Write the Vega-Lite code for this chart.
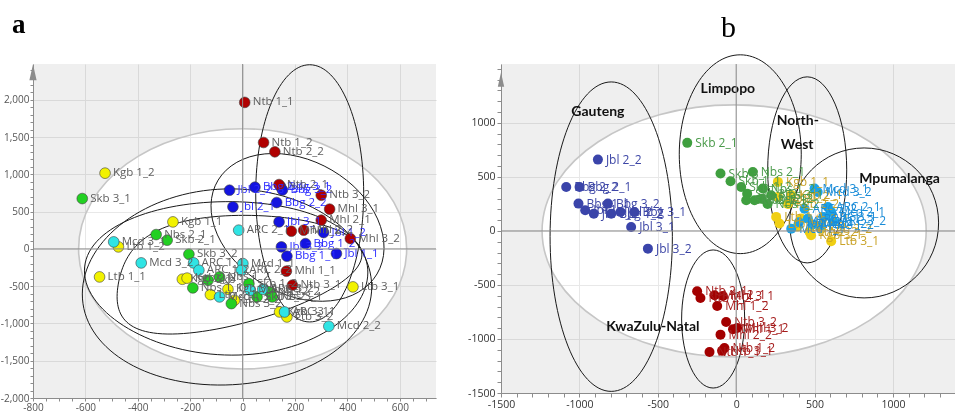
{
  "$schema": "https://vega.github.io/schema/vega-lite/v6.json",
  "padding": {"left": 0, "top": 10, "right": 0, "bottom": 0},
  "spacing": 30,
  "resolve": {"scale": {"x": "independent", "y": "independent", "color": "independent"}},
  "config": {"view": {"stroke": null}},
  "datasets": {
    "ptsA": [
      {"name": "Kgb 1_2", "g": "NW", "x": -525, "y": 1016},
      {"name": "Kgb 1_1", "g": "NW", "x": -266, "y": 362},
      {"name": "Ltb 1_2", "g": "NW", "x": -474, "y": 27},
      {"name": "Ltb 1_1", "g": "NW", "x": -546, "y": -376},
      {"name": "Kgb 2_1", "g": "NW", "x": -230, "y": -407},
      {"name": "Kgb 2_2", "g": "NW", "x": -212, "y": -392},
      {"name": "Ltb 2_1", "g": "NW", "x": -123, "y": -613},
      {"name": "Kgb 3_2", "g": "NW", "x": -56, "y": -541},
      {"name": "Ltb 2_2", "g": "NW", "x": -31, "y": -689},
      {"name": "Ltb 3_1", "g": "NW", "x": 421, "y": -510},
      {"name": "Kgb 3_1", "g": "NW", "x": 141, "y": -846},
      {"name": "Ltb 3_2", "g": "NW", "x": 169, "y": -913},
      {"name": "Skb 3_1", "g": "LP", "x": -612, "y": 675},
      {"name": "Nbs 2_1", "g": "LP", "x": -330, "y": 192},
      {"name": "Skb 2_1", "g": "LP", "x": -288, "y": 117},
      {"name": "Skb 3_2", "g": "LP", "x": -205, "y": -71},
      {"name": "Nbs 1_1", "g": "LP", "x": -190, "y": -523},
      {"name": "Skb 1_1", "g": "LP", "x": -132, "y": -421},
      {"name": "Nbs 1_2", "g": "LP", "x": -88, "y": -376},
      {"name": "Nbs 3_2", "g": "LP", "x": -43, "y": -734},
      {"name": "Skb 1_2", "g": "LP", "x": 24, "y": -466},
      {"name": "Skb 2_2", "g": "LP", "x": 55, "y": -644},
      {"name": "Nbs 2_2", "g": "LP", "x": 103, "y": -577},
      {"name": "Nbs 3_1", "g": "LP", "x": 113, "y": -644},
      {"name": "ARC 2_1", "g": "MP", "x": -15, "y": 251},
      {"name": "Mcd 3_1", "g": "MP", "x": -492, "y": 94},
      {"name": "Mcd 3_2", "g": "MP", "x": -387, "y": -188},
      {"name": "ARC 1_1", "g": "MP", "x": -187, "y": -188},
      {"name": "ARC 1_2", "g": "MP", "x": -167, "y": -286},
      {"name": "Mcd 1_1", "g": "MP", "x": 1, "y": -197},
      {"name": "ARC 2_2", "g": "MP", "x": -5, "y": -286},
      {"name": "Mcd 1_2", "g": "MP", "x": -88, "y": -644},
      {"name": "Mcd 2_1", "g": "MP", "x": 29, "y": -554},
      {"name": "ARC 3_2", "g": "MP", "x": 77, "y": -541},
      {"name": "ARC 3_1", "g": "MP", "x": 160, "y": -846},
      {"name": "Mcd 2_2", "g": "MP", "x": 329, "y": -1038},
      {"name": "Jbl 2_2", "g": "GP", "x": -50, "y": 787},
      {"name": "Bbg 2_1", "g": "GP", "x": 47, "y": 828},
      {"name": "Bbg 3_1", "g": "GP", "x": 145, "y": 835},
      {"name": "Bbg 3_2", "g": "GP", "x": 152, "y": 790},
      {"name": "Jbl 2_1", "g": "GP", "x": -37, "y": 564},
      {"name": "Bbg 2_2", "g": "GP", "x": 130, "y": 622},
      {"name": "Jbl 3_1", "g": "GP", "x": 139, "y": 362},
      {"name": "Jbl 1_2", "g": "GP", "x": 309, "y": 219},
      {"name": "Jbl 3_2", "g": "GP", "x": 148, "y": 27},
      {"name": "Bbg 1_2", "g": "GP", "x": 240, "y": 71},
      {"name": "Jbl 1_1", "g": "GP", "x": 358, "y": -63},
      {"name": "Bbg 1_1", "g": "GP", "x": 169, "y": -98},
      {"name": "Ntb 1_1", "g": "KZN", "x": 8, "y": 1965},
      {"name": "Ntb 1_2", "g": "KZN", "x": 80, "y": 1427},
      {"name": "Ntb 2_2", "g": "KZN", "x": 123, "y": 1302},
      {"name": "Ntb 2_1", "g": "KZN", "x": 139, "y": 863},
      {"name": "Ntb 3_2", "g": "KZN", "x": 300, "y": 720},
      {"name": "Mhl 3_1", "g": "KZN", "x": 332, "y": 533},
      {"name": "Mhl 2_1", "g": "KZN", "x": 300, "y": 385},
      {"name": "Mhl 1_2", "g": "KZN", "x": 186, "y": 237},
      {"name": "Mhl 2_2", "g": "KZN", "x": 233, "y": 251},
      {"name": "Mhl 3_2", "g": "KZN", "x": 411, "y": 139},
      {"name": "Mhl 1_1", "g": "KZN", "x": 167, "y": -299},
      {"name": "Ntb 3_1", "g": "KZN", "x": 190, "y": -487}
    ],
    "ellA": [
      {"e": "T2", "k": 0, "x": 626, "y": 0},
      {"e": "T2", "k": 1, "x": 0, "y": 1611},
      {"e": "T2", "k": 2, "x": -626, "y": 0},
      {"e": "T2", "k": 3, "x": 0, "y": -1611},
      {"e": "E1", "k": 0, "x": 462, "y": 745},
      {"e": "E1", "k": 1, "x": 256, "y": 2470},
      {"e": "E1", "k": 2, "x": 50, "y": 745},
      {"e": "E1", "k": 3, "x": 256, "y": -980},
      {"e": "E2", "k": 0, "x": 534, "y": 201},
      {"e": "E2", "k": 1, "x": 149, "y": 1275},
      {"e": "E2", "k": 2, "x": -115, "y": 389},
      {"e": "E2", "k": 3, "x": 271, "y": -698},
      {"e": "E3", "k": 0, "x": 492, "y": -577},
      {"e": "E3", "k": 1, "x": -38, "y": 805},
      {"e": "E3", "k": 2, "x": -611, "y": -537},
      {"e": "E3", "k": 3, "x": -95, "y": -1826},
      {"e": "E4", "k": 0, "x": 477, "y": -376},
      {"e": "E4", "k": 1, "x": -11, "y": 631},
      {"e": "E4", "k": 2, "x": -603, "y": -242},
      {"e": "E4", "k": 3, "x": -69, "y": -1423},
      {"e": "E5", "k": 0, "x": 454, "y": -121},
      {"e": "E5", "k": 1, "x": -115, "y": 430},
      {"e": "E5", "k": 2, "x": -473, "y": -443},
      {"e": "E5", "k": 3, "x": -202, "y": -1128}
    ],
    "ptsB": [
      {"name": "Kgb 1_1", "g": "NW", "x": 266, "y": 454},
      {"name": "Kgb 1_2", "g": "NW", "x": 266, "y": 315},
      {"name": "Ltb 1_1", "g": "NW", "x": 255, "y": 130},
      {"name": "Ltb 1_2", "g": "NW", "x": 276, "y": 68},
      {"name": "Kgb 2_1", "g": "NW", "x": 351, "y": 333},
      {"name": "Kgb 2_2", "g": "NW", "x": 330, "y": 250},
      {"name": "Ltb 2_1", "g": "NW", "x": 415, "y": 114},
      {"name": "Ltb 2_2", "g": "NW", "x": 468, "y": -9},
      {"name": "Kgb 3_1", "g": "NW", "x": 478, "y": -40},
      {"name": "Kgb 3_2", "g": "NW", "x": 540, "y": 20},
      {"name": "Ltb 3_1", "g": "NW", "x": 606, "y": -95},
      {"name": "Ltb 3_2", "g": "NW", "x": 390, "y": 40},
      {"name": "Skb 2_1", "g": "LP", "x": -312, "y": 815},
      {"name": "Skb 3_1", "g": "LP", "x": -100, "y": 531},
      {"name": "Skb 1_1", "g": "LP", "x": -36, "y": 460},
      {"name": "Skb 1_2", "g": "LP", "x": 32, "y": 407},
      {"name": "Nbs 2_1", "g": "LP", "x": 106, "y": 546},
      {"name": "Skb 3_2", "g": "LP", "x": 70, "y": 345},
      {"name": "Skb 2_2", "g": "LP", "x": 64, "y": 284},
      {"name": "Nbs 1_1", "g": "LP", "x": 117, "y": 284},
      {"name": "Nbs 1_2", "g": "LP", "x": 170, "y": 392},
      {"name": "Nbs 2_2", "g": "LP", "x": 159, "y": 299},
      {"name": "Nbs 3_1", "g": "LP", "x": 223, "y": 330},
      {"name": "Nbs 3_2", "g": "LP", "x": 200, "y": 250},
      {"name": "Mcd 3_1", "g": "MP", "x": 500, "y": 392},
      {"name": "Mcd 3_2", "g": "MP", "x": 520, "y": 360},
      {"name": "Mcd 1_1", "g": "MP", "x": 351, "y": 21},
      {"name": "ARC 2_1", "g": "MP", "x": 585, "y": 222},
      {"name": "ARC 1_1", "g": "MP", "x": 457, "y": 114},
      {"name": "ARC 1_2", "g": "MP", "x": 542, "y": 53},
      {"name": "ARC 2_2", "g": "MP", "x": 436, "y": 206},
      {"name": "Mcd 2_1", "g": "MP", "x": 606, "y": 176},
      {"name": "Mcd 1_2", "g": "MP", "x": 490, "y": 60},
      {"name": "ARC 3_1", "g": "MP", "x": 560, "y": 130},
      {"name": "ARC 3_2", "g": "MP", "x": 620, "y": 90},
      {"name": "Mcd 2_2", "g": "MP", "x": 400, "y": 80},
      {"name": "Jbl 2_2", "g": "GP", "x": -882, "y": 660},
      {"name": "Bbg 2_2", "g": "GP", "x": -1084, "y": 407},
      {"name": "Bbg 2_1", "g": "GP", "x": -999, "y": 407},
      {"name": "Bbg 1_1", "g": "GP", "x": -1006, "y": 253},
      {"name": "Jbl 1_1", "g": "GP", "x": -963, "y": 192},
      {"name": "Jbl 1_2", "g": "GP", "x": -908, "y": 160},
      {"name": "Bbg 3_2", "g": "GP", "x": -818, "y": 253},
      {"name": "Bbg 1_2", "g": "GP", "x": -797, "y": 160},
      {"name": "Jbl 2_1", "g": "GP", "x": -738, "y": 176},
      {"name": "Bbg 3_1", "g": "GP", "x": -649, "y": 176},
      {"name": "Jbl 3_1", "g": "GP", "x": -670, "y": 37},
      {"name": "Jbl 3_2", "g": "GP", "x": -563, "y": -164},
      {"name": "Ntb 2_1", "g": "KZN", "x": -249, "y": -558},
      {"name": "Ntb 2_2", "g": "KZN", "x": -228, "y": -620},
      {"name": "Mhl 2_1", "g": "KZN", "x": -138, "y": -596},
      {"name": "Mhl 3_1", "g": "KZN", "x": -85, "y": -602},
      {"name": "Mhl 1_2", "g": "KZN", "x": -121, "y": -694},
      {"name": "Ntb 3_2", "g": "KZN", "x": -64, "y": -843},
      {"name": "Mhl 3_2", "g": "KZN", "x": 6, "y": -898},
      {"name": "Mhl 2_2", "g": "KZN", "x": -100, "y": -960},
      {"name": "Mhl 1_1", "g": "KZN", "x": -20, "y": -910},
      {"name": "Ntb 1_2", "g": "KZN", "x": -75, "y": -1083},
      {"name": "Ntb 3_1", "g": "KZN", "x": -90, "y": -1110},
      {"name": "Ntb 1_1", "g": "KZN", "x": -170, "y": -1120}
    ],
    "ellB": [
      {"e": "T2", "k": 0, "x": 1212, "y": 0},
      {"e": "T2", "k": 1, "x": -13, "y": 1167},
      {"e": "T2", "k": 2, "x": -1238, "y": 0},
      {"e": "T2", "k": 3, "x": -13, "y": -1167},
      {"e": "Gauteng", "k": 0, "x": -407, "y": -53},
      {"e": "Gauteng", "k": 1, "x": -797, "y": 1379},
      {"e": "Gauteng", "k": 2, "x": -1187, "y": -53},
      {"e": "Gauteng", "k": 3, "x": -797, "y": -1485},
      {"e": "Limpopo", "k": 0, "x": 415, "y": 710},
      {"e": "Limpopo", "k": 1, "x": 26, "y": 1630},
      {"e": "Limpopo", "k": 2, "x": -363, "y": 710},
      {"e": "Limpopo", "k": 3, "x": 26, "y": -210},
      {"e": "North-West", "k": 0, "x": 705, "y": 565},
      {"e": "North-West", "k": 1, "x": 453, "y": 1426},
      {"e": "North-West", "k": 2, "x": 201, "y": 565},
      {"e": "North-West", "k": 3, "x": 453, "y": -296},
      {"e": "Mpumalanga", "k": 0, "x": 1291, "y": 74},
      {"e": "Mpumalanga", "k": 1, "x": 816, "y": 768},
      {"e": "Mpumalanga", "k": 2, "x": 341, "y": 74},
      {"e": "Mpumalanga", "k": 3, "x": 816, "y": -620},
      {"e": "KwaZulu-Natal", "k": 0, "x": 54, "y": -815},
      {"e": "KwaZulu-Natal", "k": 1, "x": -147, "y": -176},
      {"e": "KwaZulu-Natal", "k": 2, "x": -348, "y": -815},
      {"e": "KwaZulu-Natal", "k": 3, "x": -147, "y": -1454}
    ],
    "regB": [
      {"t": "Gauteng", "x": -882, "y": 1105},
      {"t": "Limpopo", "x": -53, "y": 1318},
      {"t": "North-", "x": 393, "y": 1016},
      {"t": "West", "x": 389, "y": 794},
      {"t": "Mpumalanga", "x": 1042, "y": 484},
      {"t": "KwaZulu-Natal", "x": -531, "y": -889}
    ]
  },
  "hconcat": [
    {
      "title": {"text": "a", "anchor": "start", "frame": "group", "dx": -21, "offset": 24, "font": "Liberation Serif", "fontSize": 27, "fontWeight": "bold", "color": "#000000"},
      "width": 403,
      "height": 334,
      "view": {"fill": "#efefef", "stroke": null},
      "resolve": {"scale": {"color": "independent"}},
      "layer": [
        {
          "data": {"name": "ellA"},
          "transform": [{"filter": "datum.e === 'T2'"}],
          "mark": {"type": "line", "interpolate": "cardinal-closed", "tension": -0.657, "fill": "#111111", "blend": "color-dodge", "strokeWidth": 0},
          "encoding": {
            "x": {"field": "x", "type": "quantitative", "scale": {"domain": [-800, 738], "nice": false, "zero": false},
              "axis": {"title": null, "values": [-800, -750, -700, -650, -600, -550, -500, -450, -400, -350, -300, -250, -200, -150, -100, -50, 0, 50, 100, 150, 200, 250, 300, 350, 400, 450, 500, 550, 600, 650, 700], "labelExpr": "datum.value % 200 === 0 ? replace(format(datum.value, ','), '\u2212', '-') : ''", "labelFont": "Open Sans", "labelFontSize": 10, "labelColor": "#555555", "labelPadding": 1, "labelOverlap": false, "labelFlush": false, "tickColor": "#8c8c8c", "tickSize": 3, "domainColor": "#8c8c8c", "grid": true, "gridColor": {"condition": {"test": "datum.value % 200 === 0", "value": "#d9d9d9"}, "value": "transparent"}}},
            "y": {"field": "y", "type": "quantitative", "scale": {"domain": [-2000, 2480], "nice": false, "zero": false},
              "axis": {"title": null, "values": [-2000, -1900, -1800, -1700, -1600, -1500, -1400, -1300, -1200, -1100, -1000, -900, -800, -700, -600, -500, -400, -300, -200, -100, 0, 100, 200, 300, 400, 500, 600, 700, 800, 900, 1000, 1100, 1200, 1300, 1400, 1500, 1600, 1700, 1800, 1900, 2000, 2100, 2200, 2300, 2400], "labelExpr": "datum.value % 500 === 0 ? replace(format(datum.value, ','), '\u2212', '-') : ''", "labelFont": "Open Sans", "labelFontSize": 10, "labelColor": "#555555", "labelPadding": 1, "labelOverlap": false, "labelFlush": false, "tickColor": "#8c8c8c", "tickSize": 3, "domainColor": "#8c8c8c", "grid": true, "gridColor": {"condition": {"test": "datum.value % 500 === 0", "value": "#d9d9d9"}, "value": "transparent"}}},
            "order": {"field": "k"}
          }
        },
        {
          "data": {"name": "ellA"},
          "transform": [{"filter": "datum.e === 'T2'"}],
          "mark": {"type": "line", "interpolate": "cardinal-closed", "tension": -0.657, "color": "#c6c6c6", "strokeWidth": 1.6},
          "encoding": {
            "x": {"field": "x", "type": "quantitative", "scale": {"domain": [-800, 738], "nice": false, "zero": false},
              "axis": {"title": null, "values": [-800, -750, -700, -650, -600, -550, -500, -450, -400, -350, -300, -250, -200, -150, -100, -50, 0, 50, 100, 150, 200, 250, 300, 350, 400, 450, 500, 550, 600, 650, 700], "labelExpr": "datum.value % 200 === 0 ? replace(format(datum.value, ','), '\u2212', '-') : ''", "labelFont": "Open Sans", "labelFontSize": 10, "labelColor": "#555555", "labelPadding": 1, "labelOverlap": false, "labelFlush": false, "tickColor": "#8c8c8c", "tickSize": 3, "domainColor": "#8c8c8c", "grid": true, "gridColor": {"condition": {"test": "datum.value % 200 === 0", "value": "#d9d9d9"}, "value": "transparent"}}},
            "y": {"field": "y", "type": "quantitative", "scale": {"domain": [-2000, 2480], "nice": false, "zero": false},
              "axis": {"title": null, "values": [-2000, -1900, -1800, -1700, -1600, -1500, -1400, -1300, -1200, -1100, -1000, -900, -800, -700, -600, -500, -400, -300, -200, -100, 0, 100, 200, 300, 400, 500, 600, 700, 800, 900, 1000, 1100, 1200, 1300, 1400, 1500, 1600, 1700, 1800, 1900, 2000, 2100, 2200, 2300, 2400], "labelExpr": "datum.value % 500 === 0 ? replace(format(datum.value, ','), '\u2212', '-') : ''", "labelFont": "Open Sans", "labelFontSize": 10, "labelColor": "#555555", "labelPadding": 1, "labelOverlap": false, "labelFlush": false, "tickColor": "#8c8c8c", "tickSize": 3, "domainColor": "#8c8c8c", "grid": true, "gridColor": {"condition": {"test": "datum.value % 500 === 0", "value": "#d9d9d9"}, "value": "transparent"}}},
            "order": {"field": "k"}
          }
        },
        {
          "data": {"name": "ellA"},
          "transform": [{"filter": "datum.e !== 'T2'"}],
          "mark": {"type": "line", "interpolate": "cardinal-closed", "tension": -0.657, "color": "#1a1a1a", "strokeWidth": 1},
          "encoding": {
            "x": {"field": "x", "type": "quantitative", "scale": {"domain": [-800, 738], "nice": false, "zero": false},
              "axis": {"title": null, "values": [-800, -750, -700, -650, -600, -550, -500, -450, -400, -350, -300, -250, -200, -150, -100, -50, 0, 50, 100, 150, 200, 250, 300, 350, 400, 450, 500, 550, 600, 650, 700], "labelExpr": "datum.value % 200 === 0 ? replace(format(datum.value, ','), '\u2212', '-') : ''", "labelFont": "Open Sans", "labelFontSize": 10, "labelColor": "#555555", "labelPadding": 1, "labelOverlap": false, "labelFlush": false, "tickColor": "#8c8c8c", "tickSize": 3, "domainColor": "#8c8c8c", "grid": true, "gridColor": {"condition": {"test": "datum.value % 200 === 0", "value": "#d9d9d9"}, "value": "transparent"}}},
            "y": {"field": "y", "type": "quantitative", "scale": {"domain": [-2000, 2480], "nice": false, "zero": false},
              "axis": {"title": null, "values": [-2000, -1900, -1800, -1700, -1600, -1500, -1400, -1300, -1200, -1100, -1000, -900, -800, -700, -600, -500, -400, -300, -200, -100, 0, 100, 200, 300, 400, 500, 600, 700, 800, 900, 1000, 1100, 1200, 1300, 1400, 1500, 1600, 1700, 1800, 1900, 2000, 2100, 2200, 2300, 2400], "labelExpr": "datum.value % 500 === 0 ? replace(format(datum.value, ','), '\u2212', '-') : ''", "labelFont": "Open Sans", "labelFontSize": 10, "labelColor": "#555555", "labelPadding": 1, "labelOverlap": false, "labelFlush": false, "tickColor": "#8c8c8c", "tickSize": 3, "domainColor": "#8c8c8c", "grid": true, "gridColor": {"condition": {"test": "datum.value % 500 === 0", "value": "#d9d9d9"}, "value": "transparent"}}},
            "detail": {"field": "e"},
            "order": {"field": "k"}
          }
        },
        {
          "data": {"name": "ptsA"},
          "mark": {"type": "circle", "size": 115, "opacity": 1, "stroke": "#404040", "strokeWidth": 0.6},
          "encoding": {
            "x": {"field": "x", "type": "quantitative", "scale": {"domain": [-800, 738], "nice": false, "zero": false},
              "axis": {"title": null, "values": [-800, -750, -700, -650, -600, -550, -500, -450, -400, -350, -300, -250, -200, -150, -100, -50, 0, 50, 100, 150, 200, 250, 300, 350, 400, 450, 500, 550, 600, 650, 700], "labelExpr": "datum.value % 200 === 0 ? replace(format(datum.value, ','), '\u2212', '-') : ''", "labelFont": "Open Sans", "labelFontSize": 10, "labelColor": "#555555", "labelPadding": 1, "labelOverlap": false, "labelFlush": false, "tickColor": "#8c8c8c", "tickSize": 3, "domainColor": "#8c8c8c", "grid": true, "gridColor": {"condition": {"test": "datum.value % 200 === 0", "value": "#d9d9d9"}, "value": "transparent"}}},
            "y": {"field": "y", "type": "quantitative", "scale": {"domain": [-2000, 2480], "nice": false, "zero": false},
              "axis": {"title": null, "values": [-2000, -1900, -1800, -1700, -1600, -1500, -1400, -1300, -1200, -1100, -1000, -900, -800, -700, -600, -500, -400, -300, -200, -100, 0, 100, 200, 300, 400, 500, 600, 700, 800, 900, 1000, 1100, 1200, 1300, 1400, 1500, 1600, 1700, 1800, 1900, 2000, 2100, 2200, 2300, 2400], "labelExpr": "datum.value % 500 === 0 ? replace(format(datum.value, ','), '\u2212', '-') : ''", "labelFont": "Open Sans", "labelFontSize": 10, "labelColor": "#555555", "labelPadding": 1, "labelOverlap": false, "labelFlush": false, "tickColor": "#8c8c8c", "tickSize": 3, "domainColor": "#8c8c8c", "grid": true, "gridColor": {"condition": {"test": "datum.value % 500 === 0", "value": "#d9d9d9"}, "value": "transparent"}}},
            "color": {"field": "g", "type": "nominal", "legend": null,
              "scale": {"domain": ["KZN", "GP", "NW", "LP", "MP"], "range": ["#b00000", "#1414e0", "#f2f200", "#22d022", "#30e4e4"]}}
          }
        },
        {
          "data": {"name": "ptsA"},
          "mark": {"type": "text", "align": "left", "baseline": "middle", "dx": 8, "font": "Open Sans", "fontSize": 11.5},
          "encoding": {
            "x": {"field": "x", "type": "quantitative", "scale": {"domain": [-800, 738], "nice": false, "zero": false},
              "axis": {"title": null, "values": [-800, -750, -700, -650, -600, -550, -500, -450, -400, -350, -300, -250, -200, -150, -100, -50, 0, 50, 100, 150, 200, 250, 300, 350, 400, 450, 500, 550, 600, 650, 700], "labelExpr": "datum.value % 200 === 0 ? replace(format(datum.value, ','), '\u2212', '-') : ''", "labelFont": "Open Sans", "labelFontSize": 10, "labelColor": "#555555", "labelPadding": 1, "labelOverlap": false, "labelFlush": false, "tickColor": "#8c8c8c", "tickSize": 3, "domainColor": "#8c8c8c", "grid": true, "gridColor": {"condition": {"test": "datum.value % 200 === 0", "value": "#d9d9d9"}, "value": "transparent"}}},
            "y": {"field": "y", "type": "quantitative", "scale": {"domain": [-2000, 2480], "nice": false, "zero": false},
              "axis": {"title": null, "values": [-2000, -1900, -1800, -1700, -1600, -1500, -1400, -1300, -1200, -1100, -1000, -900, -800, -700, -600, -500, -400, -300, -200, -100, 0, 100, 200, 300, 400, 500, 600, 700, 800, 900, 1000, 1100, 1200, 1300, 1400, 1500, 1600, 1700, 1800, 1900, 2000, 2100, 2200, 2300, 2400], "labelExpr": "datum.value % 500 === 0 ? replace(format(datum.value, ','), '\u2212', '-') : ''", "labelFont": "Open Sans", "labelFontSize": 10, "labelColor": "#555555", "labelPadding": 1, "labelOverlap": false, "labelFlush": false, "tickColor": "#8c8c8c", "tickSize": 3, "domainColor": "#8c8c8c", "grid": true, "gridColor": {"condition": {"test": "datum.value % 500 === 0", "value": "#d9d9d9"}, "value": "transparent"}}},
            "text": {"field": "name"},
            "color": {"field": "g", "type": "nominal", "legend": null,
              "scale": {"domain": ["KZN", "GP", "NW", "LP", "MP"], "range": ["#5e5e5e", "#2a2aff", "#5e5e5e", "#5e5e5e", "#5e5e5e"]}}
          }
        },
        {
          "data": {"values": [{}]},
          "mark": {"type": "rule", "color": "#8c8c8c", "strokeWidth": 1},
          "encoding": {
            "y": {"datum": 0, "type": "quantitative", "scale": {"domain": [-2000, 2480], "nice": false, "zero": false},
              "axis": {"title": null, "values": [-2000, -1900, -1800, -1700, -1600, -1500, -1400, -1300, -1200, -1100, -1000, -900, -800, -700, -600, -500, -400, -300, -200, -100, 0, 100, 200, 300, 400, 500, 600, 700, 800, 900, 1000, 1100, 1200, 1300, 1400, 1500, 1600, 1700, 1800, 1900, 2000, 2100, 2200, 2300, 2400], "labelExpr": "datum.value % 500 === 0 ? replace(format(datum.value, ','), '\u2212', '-') : ''", "labelFont": "Open Sans", "labelFontSize": 10, "labelColor": "#555555", "labelPadding": 1, "labelOverlap": false, "labelFlush": false, "tickColor": "#8c8c8c", "tickSize": 3, "domainColor": "#8c8c8c", "grid": true, "gridColor": {"condition": {"test": "datum.value % 500 === 0", "value": "#d9d9d9"}, "value": "transparent"}}}
          }
        },
        {
          "data": {"values": [{}]},
          "mark": {"type": "rule", "color": "#8c8c8c", "strokeWidth": 1},
          "encoding": {
            "x": {"datum": 0, "type": "quantitative", "scale": {"domain": [-800, 738], "nice": false, "zero": false},
              "axis": {"title": null, "values": [-800, -750, -700, -650, -600, -550, -500, -450, -400, -350, -300, -250, -200, -150, -100, -50, 0, 50, 100, 150, 200, 250, 300, 350, 400, 450, 500, 550, 600, 650, 700], "labelExpr": "datum.value % 200 === 0 ? replace(format(datum.value, ','), '\u2212', '-') : ''", "labelFont": "Open Sans", "labelFontSize": 10, "labelColor": "#555555", "labelPadding": 1, "labelOverlap": false, "labelFlush": false, "tickColor": "#8c8c8c", "tickSize": 3, "domainColor": "#8c8c8c", "grid": true, "gridColor": {"condition": {"test": "datum.value % 200 === 0", "value": "#d9d9d9"}, "value": "transparent"}}}
          }
        },
        {
          "data": {"values": [{}]},
          "mark": {"type": "point", "shape": "M0,-1L0.45,1L-0.45,1Z", "filled": true, "color": "#8c8c8c", "opacity": 1, "size": 256},
          "encoding": {
            "x": {"datum": -800, "type": "quantitative", "scale": {"domain": [-800, 738], "nice": false, "zero": false},
              "axis": {"title": null, "values": [-800, -750, -700, -650, -600, -550, -500, -450, -400, -350, -300, -250, -200, -150, -100, -50, 0, 50, 100, 150, 200, 250, 300, 350, 400, 450, 500, 550, 600, 650, 700], "labelExpr": "datum.value % 200 === 0 ? replace(format(datum.value, ','), '\u2212', '-') : ''", "labelFont": "Open Sans", "labelFontSize": 10, "labelColor": "#555555", "labelPadding": 1, "labelOverlap": false, "labelFlush": false, "tickColor": "#8c8c8c", "tickSize": 3, "domainColor": "#8c8c8c", "grid": true, "gridColor": {"condition": {"test": "datum.value % 200 === 0", "value": "#d9d9d9"}, "value": "transparent"}}},
            "y": {"datum": 2370, "type": "quantitative", "scale": {"domain": [-2000, 2480], "nice": false, "zero": false},
              "axis": {"title": null, "values": [-2000, -1900, -1800, -1700, -1600, -1500, -1400, -1300, -1200, -1100, -1000, -900, -800, -700, -600, -500, -400, -300, -200, -100, 0, 100, 200, 300, 400, 500, 600, 700, 800, 900, 1000, 1100, 1200, 1300, 1400, 1500, 1600, 1700, 1800, 1900, 2000, 2100, 2200, 2300, 2400], "labelExpr": "datum.value % 500 === 0 ? replace(format(datum.value, ','), '\u2212', '-') : ''", "labelFont": "Open Sans", "labelFontSize": 10, "labelColor": "#555555", "labelPadding": 1, "labelOverlap": false, "labelFlush": false, "tickColor": "#8c8c8c", "tickSize": 3, "domainColor": "#8c8c8c", "grid": true, "gridColor": {"condition": {"test": "datum.value % 500 === 0", "value": "#d9d9d9"}, "value": "transparent"}}}
          }
        }
      ]
    },
    {
      "title": {"text": "b", "anchor": "middle", "frame": "group", "offset": 10, "font": "Liberation Serif", "fontSize": 30, "fontWeight": "normal", "color": "#000000"},
      "width": 455,
      "height": 329,
      "view": {"fill": "#efefef", "stroke": null},
      "resolve": {"scale": {"color": "independent"}},
      "layer": [
        {
          "data": {"name": "ellB"},
          "transform": [{"filter": "datum.e === 'T2'"}],
          "mark": {"type": "line", "interpolate": "cardinal-closed", "tension": -0.657, "fill": "#111111", "blend": "color-dodge", "strokeWidth": 0},
          "encoding": {
            "x": {"field": "x", "type": "quantitative", "scale": {"domain": [-1500, 1402], "nice": false, "zero": false},
              "axis": {"title": null, "values": [-1500, -1400, -1300, -1200, -1100, -1000, -900, -800, -700, -600, -500, -400, -300, -200, -100, 0, 100, 200, 300, 400, 500, 600, 700, 800, 900, 1000, 1100, 1200, 1300, 1400], "labelExpr": "datum.value % 500 === 0 ? replace(format(datum.value, 'd'), '\u2212', '-') : ''", "labelFont": "Open Sans", "labelFontSize": 10.5, "labelColor": "#333333", "labelPadding": 2, "labelOverlap": false, "labelFlush": false, "tickColor": "#8c8c8c", "tickSize": 4, "domainColor": "#8c8c8c", "grid": true, "gridColor": {"condition": {"test": "datum.value % 500 === 0", "value": "#d9d9d9"}, "value": "transparent"}}},
            "y": {"field": "y", "type": "quantitative", "scale": {"domain": [-1500, 1545], "nice": false, "zero": false},
              "axis": {"title": null, "values": [-1500, -1400, -1300, -1200, -1100, -1000, -900, -800, -700, -600, -500, -400, -300, -200, -100, 0, 100, 200, 300, 400, 500, 600, 700, 800, 900, 1000, 1100, 1200, 1300, 1400, 1500], "labelExpr": "datum.value % 500 === 0 && datum.value < 1500 ? replace(format(datum.value, 'd'), '\u2212', '-') : ''", "labelFont": "Open Sans", "labelFontSize": 10.5, "labelColor": "#333333", "labelPadding": 2, "labelOverlap": false, "labelFlush": false, "tickColor": "#8c8c8c", "tickSize": 4, "domainColor": "#8c8c8c", "grid": true, "gridColor": {"condition": {"test": "datum.value % 500 === 0 && datum.value < 1500", "value": "#d9d9d9"}, "value": "transparent"}}},
            "order": {"field": "k"}
          }
        },
        {
          "data": {"name": "ellB"},
          "transform": [{"filter": "datum.e === 'T2'"}],
          "mark": {"type": "line", "interpolate": "cardinal-closed", "tension": -0.657, "color": "#c6c6c6", "strokeWidth": 1.6},
          "encoding": {
            "x": {"field": "x", "type": "quantitative", "scale": {"domain": [-1500, 1402], "nice": false, "zero": false},
              "axis": {"title": null, "values": [-1500, -1400, -1300, -1200, -1100, -1000, -900, -800, -700, -600, -500, -400, -300, -200, -100, 0, 100, 200, 300, 400, 500, 600, 700, 800, 900, 1000, 1100, 1200, 1300, 1400], "labelExpr": "datum.value % 500 === 0 ? replace(format(datum.value, 'd'), '\u2212', '-') : ''", "labelFont": "Open Sans", "labelFontSize": 10.5, "labelColor": "#333333", "labelPadding": 2, "labelOverlap": false, "labelFlush": false, "tickColor": "#8c8c8c", "tickSize": 4, "domainColor": "#8c8c8c", "grid": true, "gridColor": {"condition": {"test": "datum.value % 500 === 0", "value": "#d9d9d9"}, "value": "transparent"}}},
            "y": {"field": "y", "type": "quantitative", "scale": {"domain": [-1500, 1545], "nice": false, "zero": false},
              "axis": {"title": null, "values": [-1500, -1400, -1300, -1200, -1100, -1000, -900, -800, -700, -600, -500, -400, -300, -200, -100, 0, 100, 200, 300, 400, 500, 600, 700, 800, 900, 1000, 1100, 1200, 1300, 1400, 1500], "labelExpr": "datum.value % 500 === 0 && datum.value < 1500 ? replace(format(datum.value, 'd'), '\u2212', '-') : ''", "labelFont": "Open Sans", "labelFontSize": 10.5, "labelColor": "#333333", "labelPadding": 2, "labelOverlap": false, "labelFlush": false, "tickColor": "#8c8c8c", "tickSize": 4, "domainColor": "#8c8c8c", "grid": true, "gridColor": {"condition": {"test": "datum.value % 500 === 0 && datum.value < 1500", "value": "#d9d9d9"}, "value": "transparent"}}},
            "order": {"field": "k"}
          }
        },
        {
          "data": {"name": "ellB"},
          "transform": [{"filter": "datum.e !== 'T2'"}],
          "mark": {"type": "line", "interpolate": "cardinal-closed", "tension": -0.657, "color": "#1a1a1a", "strokeWidth": 1},
          "encoding": {
            "x": {"field": "x", "type": "quantitative", "scale": {"domain": [-1500, 1402], "nice": false, "zero": false},
              "axis": {"title": null, "values": [-1500, -1400, -1300, -1200, -1100, -1000, -900, -800, -700, -600, -500, -400, -300, -200, -100, 0, 100, 200, 300, 400, 500, 600, 700, 800, 900, 1000, 1100, 1200, 1300, 1400], "labelExpr": "datum.value % 500 === 0 ? replace(format(datum.value, 'd'), '\u2212', '-') : ''", "labelFont": "Open Sans", "labelFontSize": 10.5, "labelColor": "#333333", "labelPadding": 2, "labelOverlap": false, "labelFlush": false, "tickColor": "#8c8c8c", "tickSize": 4, "domainColor": "#8c8c8c", "grid": true, "gridColor": {"condition": {"test": "datum.value % 500 === 0", "value": "#d9d9d9"}, "value": "transparent"}}},
            "y": {"field": "y", "type": "quantitative", "scale": {"domain": [-1500, 1545], "nice": false, "zero": false},
              "axis": {"title": null, "values": [-1500, -1400, -1300, -1200, -1100, -1000, -900, -800, -700, -600, -500, -400, -300, -200, -100, 0, 100, 200, 300, 400, 500, 600, 700, 800, 900, 1000, 1100, 1200, 1300, 1400, 1500], "labelExpr": "datum.value % 500 === 0 && datum.value < 1500 ? replace(format(datum.value, 'd'), '\u2212', '-') : ''", "labelFont": "Open Sans", "labelFontSize": 10.5, "labelColor": "#333333", "labelPadding": 2, "labelOverlap": false, "labelFlush": false, "tickColor": "#8c8c8c", "tickSize": 4, "domainColor": "#8c8c8c", "grid": true, "gridColor": {"condition": {"test": "datum.value % 500 === 0 && datum.value < 1500", "value": "#d9d9d9"}, "value": "transparent"}}},
            "detail": {"field": "e"},
            "order": {"field": "k"}
          }
        },
        {
          "data": {"name": "ptsB"},
          "mark": {"type": "circle", "size": 100, "opacity": 1},
          "encoding": {
            "x": {"field": "x", "type": "quantitative", "scale": {"domain": [-1500, 1402], "nice": false, "zero": false},
              "axis": {"title": null, "values": [-1500, -1400, -1300, -1200, -1100, -1000, -900, -800, -700, -600, -500, -400, -300, -200, -100, 0, 100, 200, 300, 400, 500, 600, 700, 800, 900, 1000, 1100, 1200, 1300, 1400], "labelExpr": "datum.value % 500 === 0 ? replace(format(datum.value, 'd'), '\u2212', '-') : ''", "labelFont": "Open Sans", "labelFontSize": 10.5, "labelColor": "#333333", "labelPadding": 2, "labelOverlap": false, "labelFlush": false, "tickColor": "#8c8c8c", "tickSize": 4, "domainColor": "#8c8c8c", "grid": true, "gridColor": {"condition": {"test": "datum.value % 500 === 0", "value": "#d9d9d9"}, "value": "transparent"}}},
            "y": {"field": "y", "type": "quantitative", "scale": {"domain": [-1500, 1545], "nice": false, "zero": false},
              "axis": {"title": null, "values": [-1500, -1400, -1300, -1200, -1100, -1000, -900, -800, -700, -600, -500, -400, -300, -200, -100, 0, 100, 200, 300, 400, 500, 600, 700, 800, 900, 1000, 1100, 1200, 1300, 1400, 1500], "labelExpr": "datum.value % 500 === 0 && datum.value < 1500 ? replace(format(datum.value, 'd'), '\u2212', '-') : ''", "labelFont": "Open Sans", "labelFontSize": 10.5, "labelColor": "#333333", "labelPadding": 2, "labelOverlap": false, "labelFlush": false, "tickColor": "#8c8c8c", "tickSize": 4, "domainColor": "#8c8c8c", "grid": true, "gridColor": {"condition": {"test": "datum.value % 500 === 0 && datum.value < 1500", "value": "#d9d9d9"}, "value": "transparent"}}},
            "color": {"field": "g", "type": "nominal", "legend": null,
              "scale": {"domain": ["KZN", "GP", "NW", "LP", "MP"], "range": ["#a30000", "#3a44aa", "#f0cf14", "#3f9f3f", "#1ca2e6"]}}
          }
        },
        {
          "data": {"name": "ptsB"},
          "mark": {"type": "text", "align": "left", "baseline": "middle", "dx": 8, "font": "Open Sans", "fontSize": 12},
          "encoding": {
            "x": {"field": "x", "type": "quantitative", "scale": {"domain": [-1500, 1402], "nice": false, "zero": false},
              "axis": {"title": null, "values": [-1500, -1400, -1300, -1200, -1100, -1000, -900, -800, -700, -600, -500, -400, -300, -200, -100, 0, 100, 200, 300, 400, 500, 600, 700, 800, 900, 1000, 1100, 1200, 1300, 1400], "labelExpr": "datum.value % 500 === 0 ? replace(format(datum.value, 'd'), '\u2212', '-') : ''", "labelFont": "Open Sans", "labelFontSize": 10.5, "labelColor": "#333333", "labelPadding": 2, "labelOverlap": false, "labelFlush": false, "tickColor": "#8c8c8c", "tickSize": 4, "domainColor": "#8c8c8c", "grid": true, "gridColor": {"condition": {"test": "datum.value % 500 === 0", "value": "#d9d9d9"}, "value": "transparent"}}},
            "y": {"field": "y", "type": "quantitative", "scale": {"domain": [-1500, 1545], "nice": false, "zero": false},
              "axis": {"title": null, "values": [-1500, -1400, -1300, -1200, -1100, -1000, -900, -800, -700, -600, -500, -400, -300, -200, -100, 0, 100, 200, 300, 400, 500, 600, 700, 800, 900, 1000, 1100, 1200, 1300, 1400, 1500], "labelExpr": "datum.value % 500 === 0 && datum.value < 1500 ? replace(format(datum.value, 'd'), '\u2212', '-') : ''", "labelFont": "Open Sans", "labelFontSize": 10.5, "labelColor": "#333333", "labelPadding": 2, "labelOverlap": false, "labelFlush": false, "tickColor": "#8c8c8c", "tickSize": 4, "domainColor": "#8c8c8c", "grid": true, "gridColor": {"condition": {"test": "datum.value % 500 === 0 && datum.value < 1500", "value": "#d9d9d9"}, "value": "transparent"}}},
            "text": {"field": "name"},
            "color": {"field": "g", "type": "nominal", "legend": null,
              "scale": {"domain": ["KZN", "GP", "NW", "LP", "MP"], "range": ["#a51c1c", "#3d46a6", "#c9a227", "#4a9a4a", "#1a8cd8"]}}
          }
        },
        {
          "data": {"name": "regB"},
          "mark": {"type": "text", "align": "center", "baseline": "middle", "font": "Lato", "fontWeight": "bold", "fontSize": 14, "color": "#111111"},
          "encoding": {
            "x": {"field": "x", "type": "quantitative", "scale": {"domain": [-1500, 1402], "nice": false, "zero": false},
              "axis": {"title": null, "values": [-1500, -1400, -1300, -1200, -1100, -1000, -900, -800, -700, -600, -500, -400, -300, -200, -100, 0, 100, 200, 300, 400, 500, 600, 700, 800, 900, 1000, 1100, 1200, 1300, 1400], "labelExpr": "datum.value % 500 === 0 ? replace(format(datum.value, 'd'), '\u2212', '-') : ''", "labelFont": "Open Sans", "labelFontSize": 10.5, "labelColor": "#333333", "labelPadding": 2, "labelOverlap": false, "labelFlush": false, "tickColor": "#8c8c8c", "tickSize": 4, "domainColor": "#8c8c8c", "grid": true, "gridColor": {"condition": {"test": "datum.value % 500 === 0", "value": "#d9d9d9"}, "value": "transparent"}}},
            "y": {"field": "y", "type": "quantitative", "scale": {"domain": [-1500, 1545], "nice": false, "zero": false},
              "axis": {"title": null, "values": [-1500, -1400, -1300, -1200, -1100, -1000, -900, -800, -700, -600, -500, -400, -300, -200, -100, 0, 100, 200, 300, 400, 500, 600, 700, 800, 900, 1000, 1100, 1200, 1300, 1400, 1500], "labelExpr": "datum.value % 500 === 0 && datum.value < 1500 ? replace(format(datum.value, 'd'), '\u2212', '-') : ''", "labelFont": "Open Sans", "labelFontSize": 10.5, "labelColor": "#333333", "labelPadding": 2, "labelOverlap": false, "labelFlush": false, "tickColor": "#8c8c8c", "tickSize": 4, "domainColor": "#8c8c8c", "grid": true, "gridColor": {"condition": {"test": "datum.value % 500 === 0 && datum.value < 1500", "value": "#d9d9d9"}, "value": "transparent"}}},
            "text": {"field": "t"}
          }
        },
        {
          "data": {"values": [{}]},
          "mark": {"type": "rule", "color": "#8c8c8c", "strokeWidth": 1},
          "encoding": {
            "y": {"datum": 0, "type": "quantitative", "scale": {"domain": [-1500, 1545], "nice": false, "zero": false},
              "axis": {"title": null, "values": [-1500, -1400, -1300, -1200, -1100, -1000, -900, -800, -700, -600, -500, -400, -300, -200, -100, 0, 100, 200, 300, 400, 500, 600, 700, 800, 900, 1000, 1100, 1200, 1300, 1400, 1500], "labelExpr": "datum.value % 500 === 0 && datum.value < 1500 ? replace(format(datum.value, 'd'), '\u2212', '-') : ''", "labelFont": "Open Sans", "labelFontSize": 10.5, "labelColor": "#333333", "labelPadding": 2, "labelOverlap": false, "labelFlush": false, "tickColor": "#8c8c8c", "tickSize": 4, "domainColor": "#8c8c8c", "grid": true, "gridColor": {"condition": {"test": "datum.value % 500 === 0 && datum.value < 1500", "value": "#d9d9d9"}, "value": "transparent"}}}
          }
        },
        {
          "data": {"values": [{}]},
          "mark": {"type": "rule", "color": "#8c8c8c", "strokeWidth": 1},
          "encoding": {
            "x": {"datum": 0, "type": "quantitative", "scale": {"domain": [-1500, 1402], "nice": false, "zero": false},
              "axis": {"title": null, "values": [-1500, -1400, -1300, -1200, -1100, -1000, -900, -800, -700, -600, -500, -400, -300, -200, -100, 0, 100, 200, 300, 400, 500, 600, 700, 800, 900, 1000, 1100, 1200, 1300, 1400], "labelExpr": "datum.value % 500 === 0 ? replace(format(datum.value, 'd'), '\u2212', '-') : ''", "labelFont": "Open Sans", "labelFontSize": 10.5, "labelColor": "#333333", "labelPadding": 2, "labelOverlap": false, "labelFlush": false, "tickColor": "#8c8c8c", "tickSize": 4, "domainColor": "#8c8c8c", "grid": true, "gridColor": {"condition": {"test": "datum.value % 500 === 0", "value": "#d9d9d9"}, "value": "transparent"}}}
          }
        },
        {
          "data": {"values": [{}]},
          "mark": {"type": "point", "shape": "M0,-1L0.45,1L-0.45,1Z", "filled": true, "color": "#8c8c8c", "opacity": 1, "size": 200},
          "encoding": {
            "x": {"datum": -1500, "type": "quantitative", "scale": {"domain": [-1500, 1402], "nice": false, "zero": false},
              "axis": {"title": null, "values": [-1500, -1400, -1300, -1200, -1100, -1000, -900, -800, -700, -600, -500, -400, -300, -200, -100, 0, 100, 200, 300, 400, 500, 600, 700, 800, 900, 1000, 1100, 1200, 1300, 1400], "labelExpr": "datum.value % 500 === 0 ? replace(format(datum.value, 'd'), '\u2212', '-') : ''", "labelFont": "Open Sans", "labelFontSize": 10.5, "labelColor": "#333333", "labelPadding": 2, "labelOverlap": false, "labelFlush": false, "tickColor": "#8c8c8c", "tickSize": 4, "domainColor": "#8c8c8c", "grid": true, "gridColor": {"condition": {"test": "datum.value % 500 === 0", "value": "#d9d9d9"}, "value": "transparent"}}},
            "y": {"datum": 1400, "type": "quantitative", "scale": {"domain": [-1500, 1545], "nice": false, "zero": false},
              "axis": {"title": null, "values": [-1500, -1400, -1300, -1200, -1100, -1000, -900, -800, -700, -600, -500, -400, -300, -200, -100, 0, 100, 200, 300, 400, 500, 600, 700, 800, 900, 1000, 1100, 1200, 1300, 1400, 1500], "labelExpr": "datum.value % 500 === 0 && datum.value < 1500 ? replace(format(datum.value, 'd'), '\u2212', '-') : ''", "labelFont": "Open Sans", "labelFontSize": 10.5, "labelColor": "#333333", "labelPadding": 2, "labelOverlap": false, "labelFlush": false, "tickColor": "#8c8c8c", "tickSize": 4, "domainColor": "#8c8c8c", "grid": true, "gridColor": {"condition": {"test": "datum.value % 500 === 0 && datum.value < 1500", "value": "#d9d9d9"}, "value": "transparent"}}}
          }
        }
      ]
    }
  ]
}
